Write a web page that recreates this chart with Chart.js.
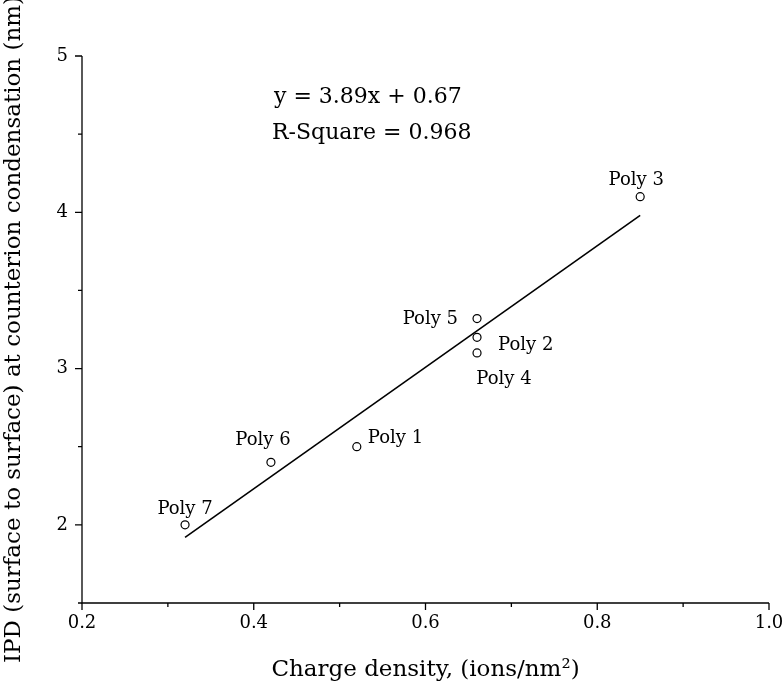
<!DOCTYPE html>
<html>
<head>
<meta charset="utf-8">
<script src="https://cdn.jsdelivr.net/npm/chart.js@4.4.1/dist/chart.umd.min.js"></script>
<style>
  html, body { margin: 0; padding: 0; background: #fff; }
  #wrap { width: 784px; height: 684px; }
</style>
</head>
<body>
<div id="wrap"><canvas id="myChart" width="784" height="684"></canvas></div>
<script>
// data
const polyNames = ['Poly 1', 'Poly 2', 'Poly 3', 'Poly 4', 'Poly 5', 'Poly 6', 'Poly 7'];
const chargeDensity = [0.52, 0.66, 0.85, 0.66, 0.66, 0.42, 0.32];
const ipdValues = [2.50, 3.20, 4.10, 3.10, 3.32, 2.40, 2.00];
const fitX = [0.32, 0.85];
const fitY = [1.92, 3.98];
const xMajorTicks = [0.2, 0.4, 0.6, 0.8, 1.0];
const yMajorTicks = [2, 3, 4, 5];
const fitText = ['y = 3.89x + 0.67', 'R-Square = 0.968'];

const serif = "'DejaVu Serif', 'Liberation Serif', serif";

// label placement (pixel offsets from each point)
const labelOffsets = {
    'Poly 1': [11, -8, 'left'],
    'Poly 2': [21, 8, 'left'],
    'Poly 3': [-4, -16, 'center'],
    'Poly 4': [27, 26, 'center'],
    'Poly 5': [-19, 1, 'right'],
    'Poly 6': [-8, -22, 'center'],
    'Poly 7': [0, -16, 'center']
};

const isMajor = (v, list) => list.some(m => Math.abs(m - v) < 1e-6);

// outward ticks (major long, minor short), plus point labels and fit text
const extrasPlugin = {
    id: 'extras',
    afterDraw(chart) {
        const ctx = chart.ctx;
        const xs = chart.scales.x, ys = chart.scales.y;
        const area = chart.chartArea;
        ctx.save();
        ctx.strokeStyle = '#000';
        ctx.lineWidth = 1.3;
        ctx.beginPath();
        ctx.moveTo(area.left, area.top);
        ctx.lineTo(area.left, area.bottom);
        ctx.lineTo(area.right, area.bottom);
        ctx.stroke();

        ctx.beginPath();
        xs.ticks.forEach(t => {
            const px = xs.getPixelForValue(t.value);
            const len = isMajor(t.value, xMajorTicks) ? 7 : 4;
            ctx.moveTo(px, area.bottom);
            ctx.lineTo(px, area.bottom + len);
        });
        ys.ticks.forEach(t => {
            const py = ys.getPixelForValue(t.value);
            const len = isMajor(t.value, yMajorTicks) ? 7 : 4;
            ctx.moveTo(area.left, py);
            ctx.lineTo(area.left - len, py);
        });
        ctx.stroke();

        // point labels
        ctx.fillStyle = '#000';
        ctx.font = '18px ' + serif;
        ctx.textBaseline = 'middle';
        polyNames.forEach((name, i) => {
            const px = xs.getPixelForValue(chargeDensity[i]);
            const py = ys.getPixelForValue(ipdValues[i]);
            const [dx, dy, align] = labelOffsets[name];
            ctx.textAlign = align;
            ctx.fillText(name, px + dx, py + dy);
        });

        // fit equation
        ctx.font = '22px ' + serif;
        ctx.textAlign = 'left';
        ctx.fillText(fitText[0], 274, 97);
        ctx.fillText(fitText[1], 272, 133);
        ctx.restore();
    }
};

const ctx = document.getElementById('myChart').getContext('2d');

new Chart(ctx, {
    type: 'scatter',
    data: {
        datasets: [
            {
                label: 'Polymers',
                data: chargeDensity.map((x, i) => ({ x: x, y: ipdValues[i] })),
                pointStyle: 'circle',
                pointRadius: 4,
                pointBorderWidth: 1.2,
                pointBorderColor: '#000',
                pointBackgroundColor: '#fff',
                showLine: false
            },
            {
                label: 'Linear fit',
                data: fitX.map((x, i) => ({ x: x, y: fitY[i] })),
                showLine: true,
                borderColor: '#000',
                borderWidth: 1.6,
                pointRadius: 0
            }
        ]
    },
    options: {
        responsive: false,
        animation: false,
        layout: { padding: { top: 56, right: 15, left: 0, bottom: 0 } },
        plugins: {
            legend: { display: false },
            tooltip: { enabled: false }
        },
        scales: {
            x: {
                type: 'linear',
                min: 0.2,
                max: 1.0,
                border: { display: false },
                grid: { display: false, drawTicks: false },
                ticks: {
                    stepSize: 0.1,
                    padding: 10,
                    maxRotation: 0,
                    color: '#000',
                    font: { family: serif, size: 18 },
                    callback: v => isMajor(v, xMajorTicks) ? v.toFixed(1) : ''
                },
                title: {
                    display: true,
                    text: 'Charge density, (ions/nm\u00B2)',
                    color: '#000',
                    font: { family: serif, size: 23 },
                    padding: { top: 10, bottom: 0 }
                },
                afterFit: s => {
                    s.height = 81;
                    s.paddingLeft = 0;
                    s.paddingRight = 0;
                }
            },
            y: {
                type: 'linear',
                min: 1.5,
                max: 5,
                border: { display: false },
                grid: { display: false, drawTicks: false },
                ticks: {
                    stepSize: 0.5,
                    padding: 14,
                    color: '#000',
                    font: { family: serif, size: 18 },
                    callback: v => isMajor(v, yMajorTicks) ? String(v) : ''
                },
                title: {
                    display: true,
                    text: 'IPD (surface to surface) at counterion condensation (nm)',
                    color: '#000',
                    font: { family: serif, size: 23 },
                    padding: { top: 0, bottom: 0 }
                },
                afterFit: s => {
                    s.width = 82;
                    s.paddingTop = 0;
                    s.paddingBottom = 0;
                }
            }
        }
    },
    plugins: [extrasPlugin]
});
</script>
</body>
</html>
